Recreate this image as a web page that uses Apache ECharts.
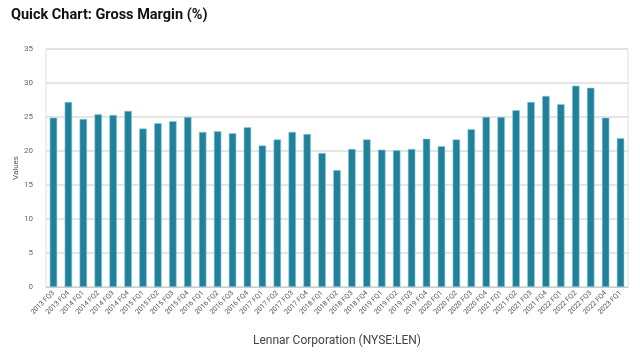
<!DOCTYPE html>
<html><head><meta charset="utf-8">
<script src="https://cdn.jsdelivr.net/npm/echarts@6/dist/echarts.min.js"></script>
<style>html,body{margin:0;padding:0;background:#fff}#c{width:640px;height:359px}</style>
</head><body><div id="c"></div>
<script>
const categories = ["2013 FQ3","2013 FQ4","2014 FQ1","2014 FQ2","2014 FQ3","2014 FQ4","2015 FQ1","2015 FQ2","2015 FQ3","2015 FQ4","2016 FQ1","2016 FQ2","2016 FQ3","2016 FQ4","2017 FQ1","2017 FQ2","2017 FQ3","2017 FQ4","2018 FQ1","2018 FQ2","2018 FQ3","2018 FQ4","2019 FQ1","2019 FQ2","2019 FQ3","2019 FQ4","2020 FQ1","2020 FQ2","2020 FQ3","2020 FQ4","2021 FQ1","2021 FQ2","2021 FQ3","2021 FQ4","2022 FQ1","2022 FQ2","2022 FQ3","2022 FQ4","2023 FQ1"];
const grossMargin = [24.9,27.2,24.7,25.4,25.3,25.9,23.3,24.1,24.4,25.0,22.8,22.9,22.6,23.5,20.8,21.7,22.8,22.5,19.7,17.2,20.3,21.7,20.2,20.1,20.3,21.8,20.7,21.7,23.2,25.0,25.0,26.0,27.2,28.1,26.9,29.6,29.3,24.9,21.9];
const yTicks = {min: 0, max: 35, interval: 5};
const titleText = "Quick Chart: Gross Margin (%)";
const xAxisName = "Lennar Corporation (NYSE:LEN)";
const yAxisName = "Values";

const chart = echarts.init(document.getElementById('c'), null, {renderer: 'canvas'});
chart.setOption({
  animation: false,
  backgroundColor: '#fff',
  title: {
    text: titleText, left: 6, top: 3,
    textStyle: {fontFamily: 'Roboto', fontWeight: 'bold', fontSize: 14.5, color: '#111'}
  },
  grid: {left: 46, right: 12, top: 49, bottom: 72, show: true, borderColor: '#ddd', borderWidth: 1},
  xAxis: {
    type: 'category', data: categories,
    name: xAxisName, nameLocation: 'middle', nameGap: 48,
    nameTextStyle: {fontFamily: 'Roboto', fontSize: 12, color: '#444'},
    axisLine: {lineStyle: {color: '#ccc'}},
    axisTick: {show: false},
    axisLabel: {rotate: 45, interval: 0, fontSize: 7, color: '#555', fontFamily: 'Roboto', margin: 5}
  },
  yAxis: {
    type: 'value', min: yTicks.min, max: yTicks.max, interval: yTicks.interval,
    name: yAxisName, nameLocation: 'middle', nameGap: 26, nameRotate: 90, nameMoveOverlap: false,
    nameTextStyle: {fontFamily: 'Roboto', fontSize: 8, color: '#555'},
    axisLine: {show: false}, axisTick: {show: false},
    axisLabel: {fontSize: 8, color: '#666', fontFamily: 'Roboto', margin: 13},
    splitLine: {lineStyle: {color: '#ddd', width: 1.5}}
  },
  series: [{
    type: 'bar', data: grossMargin, barWidth: '50%',
    itemStyle: {color: '#21819a', borderColor: '#8ccbd8', borderWidth: 0.6}
  }]
});
</script></body></html>
